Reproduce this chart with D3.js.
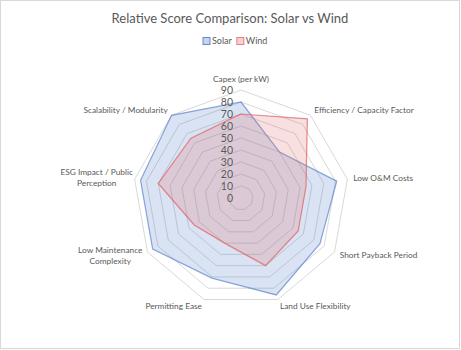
<!DOCTYPE html>
<html>
<head>
<meta charset="utf-8">
<script src="https://cdn.jsdelivr.net/npm/d3@7/dist/d3.min.js"></script>
<style>
  body { margin: 0; background: #fff; }
  svg text { font-family: Lato, "Open Sans", sans-serif; fill: #595959; }
</style>
</head>
<body>
<svg id="chart" width="461" height="350"></svg>
<script>
// axes of the radar, clockwise from top
var categories = ["Capex (per kW)", "Efficiency / Capacity Factor", "Low O&M Costs",
  "Short Payback Period", "Land Use Flexibility", "Permitting Ease",
  "Low Maintenance Complexity", "ESG Impact / Public Perception", "Scalability / Modularity"];
var solar = [80, 50, 81, 76, 86, 71, 85, 85, 90];
var wind = [70, 86, 55, 55, 60, 40, 45, 70, 65];
var ticks = [0, 10, 20, 30, 40, 50, 60, 70, 80, 90];

// label lines (two-line labels wrap like in the original)
var labelLines = {
  "Low Maintenance Complexity": ["Low Maintenance", "Complexity"],
  "ESG Impact / Public Perception": ["ESG Impact / Public", "Perception"]
};

var width = 461, height = 350;
var cx = 241, cy = 198, R = 108;

var svg = d3.select("#chart");

// chart border
svg.append("rect")
  .attr("x", 0.5).attr("y", 0.5)
  .attr("width", width - 2).attr("height", height - 2)
  .attr("fill", "#fff")
  .attr("stroke", "#d9d9d9");

// title
svg.append("text")
  .attr("x", 230).attr("y", 23)
  .attr("text-anchor", "middle")
  .style("font-size", "13px")
  .text("Relative Score Comparison: Solar vs Wind");

var rScale = d3.scaleLinear().domain([0, 90]).range([0, R]);
var angle = d3.scaleLinear().domain([0, categories.length]).range([0, 2 * Math.PI]);

function point(i, v) {
  var a = angle(i);
  return [cx + rScale(v) * Math.sin(a), cy - rScale(v) * Math.cos(a)];
}

// grid rings
var g = svg.append("g");
ticks.forEach(function(t) {
  if (t == 0) return;
  var pts = categories.map(function(c, i) { return point(i, t); });
  g.append("polygon")
    .attr("points", pts.map(function(p) { return p.join(","); }).join(" "))
    .attr("fill", "none")
    .attr("stroke", "#d9d9d9")
    .attr("stroke-width", 1);
});

// series
var series = [
  { name: "Solar", values: solar, stroke: "#4472C4", fill: "#4472C4", so: 0.6 },
  { name: "Wind", values: wind, stroke: "#E06666", fill: "#E06666", so: 0.75 }
];

var line = d3.line().curve(d3.curveLinearClosed);

series.forEach(function(s) {
  var pts = s.values.map(function(v, i) { return point(i, v); });
  svg.append("path")
    .attr("d", line(pts))
    .attr("fill", s.fill)
    .attr("fill-opacity", 0.2)
    .attr("stroke", s.stroke)
    .attr("stroke-opacity", s.so)
    .attr("stroke-width", 1.25);
});

// value axis labels
ticks.forEach(function(t) {
  svg.append("text")
    .attr("x", cx - 8)
    .attr("y", cy - rScale(t))
    .attr("dy", "0.35em")
    .attr("text-anchor", "end")
    .style("font-size", "10.5px")
    .text(t);
});

// category labels
categories.forEach(function(c, i) {
  var a = angle(i);
  var s = Math.sin(a), co = Math.cos(a);
  var p = point(i, 95);
  var anchor = s > 0.1 ? "start" : (s < -0.1 ? "end" : "middle");
  var lines = labelLines[c] || [c];
  var lh = 11;
  var yOff = (i == 0 ? -5 : -co) - (lines.length - 1) * lh / 2;
  var txt = svg.append("text")
    .attr("text-anchor", lines.length > 1 ? "middle" : anchor)
    .style("font-size", "8.3px");
  lines.forEach(function(l, k) {
    var x = p[0];
    if (lines.length > 1) x = p[0] - 32;
    txt.append("tspan")
      .attr("x", x)
      .attr("y", p[1] + yOff + k * lh)
      .attr("dy", "0.35em")
      .text(l);
  });
});

// legend
var legend = svg.append("g").attr("transform", "translate(203,41)");
var lx = 0;
series.forEach(function(s) {
  legend.append("rect")
    .attr("x", lx).attr("y", -3.5)
    .attr("width", 7).attr("height", 7)
    .attr("fill", s.fill).attr("fill-opacity", 0.3)
    .attr("stroke", s.stroke).attr("stroke-opacity", 0.8);
  var t = legend.append("text")
    .attr("x", lx + 9).attr("y", 0)
    .attr("dy", "0.35em")
    .style("font-size", "9px")
    .text(s.name);
  lx += 9 + t.node().getComputedTextLength() + 5;
});
</script>
</body>
</html>
